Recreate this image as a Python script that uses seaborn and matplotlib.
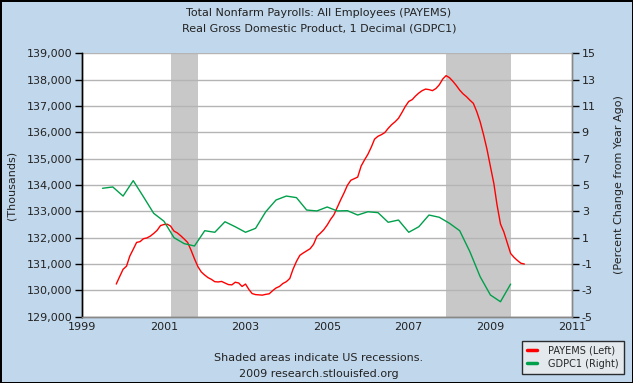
import pandas as pd
import numpy as np
import matplotlib.pyplot as plt
import matplotlib.dates as mdates
from matplotlib.lines import Line2D
import seaborn as sns

# Monthly total nonfarm payrolls (thousands), Nov 1999 - Nov 2009
payems = [
    130240, 130520,
    130800, 130920, 131300, 131560, 131820, 131850, 131960, 131990, 132060, 132160, 132280, 132460,
    132500, 132510, 132440, 132250, 132180, 132070, 131950, 131820, 131520, 131200, 130900, 130700,
    130580, 130480, 130420, 130330, 130320, 130340, 130280, 130220, 130210, 130310, 130280, 130150,
    130240, 130030, 129880, 129840, 129830, 129820, 129850, 129870, 129990, 130090, 130150, 130260,
    130330, 130450, 130800, 131100, 131330, 131420, 131500, 131580, 131750, 132050, 132170, 132300,
    132480, 132700, 132860, 133150, 133430, 133700, 133990, 134180, 134240, 134300, 134720, 134950,
    135170, 135450, 135740, 135850, 135910, 135990, 136150, 136290, 136400, 136530, 136750, 136980,
    137170, 137240, 137370, 137490, 137580, 137640, 137620, 137580, 137660, 137800, 138020, 138150,
    138070, 137930, 137780, 137600, 137460, 137350, 137220, 137100, 136780, 136400, 135900, 135360,
    134700, 134050, 133250, 132520, 132220, 131800, 131400, 131250, 131130, 131030, 131000,
]
payems_start = "1999-11-01"

# Quarterly real GDP, percent change from year ago, 1999Q3 - 2009Q3
gdpc1 = [
    4.75, 4.85,
    4.16, 5.33, 4.11, 2.85,
    2.25, 1.00, 0.55, 0.37,
    1.53, 1.41, 2.21, 1.83,
    1.41, 1.71, 2.97, 3.86,
    4.16, 4.04, 3.10, 3.03,
    3.33, 3.03, 3.05, 2.72,
    2.97, 2.90, 2.17, 2.34,
    1.41, 1.83, 2.72, 2.55,
    2.09, 1.53, -0.06, -1.96,
    -3.35, -3.86, -2.52,
]
gdpc1_start = "1999-07-01"

recessions = [("2001-03-01", "2001-11-05"), ("2007-12-01", "2009-07-01")]
left_ticks = list(range(129000, 139001, 1000))
right_ticks = list(range(-5, 16, 2))
year_ticks = [1999, 2001, 2003, 2005, 2007, 2009, 2011]

pay_df = pd.DataFrame({"date": pd.date_range(payems_start, periods=len(payems), freq="MS"),
                       "value": payems})
gdp_df = pd.DataFrame({"date": pd.date_range(gdpc1_start, periods=len(gdpc1), freq="QS"),
                       "value": gdpc1})

sns.set_theme(style="white")
plt.rcParams["font.family"] = ["DejaVu Sans"]

bg = "#C1D7EB"
fig = plt.figure(figsize=(6.33, 3.83), dpi=100, facecolor=bg, edgecolor="black", linewidth=2)
ax = fig.add_axes([0.130, 0.173, 0.7736, 0.688])
ax2 = ax.twinx()

# recession shading and horizontal grid
for start, end in recessions:
    ax.axvspan(pd.Timestamp(start), pd.Timestamp(end), color="#C8C8C8", lw=0, zorder=0)

for t in left_ticks:
    ax.axhline(t, color="#B4B4B4", lw=1, zorder=1)

sns.lineplot(data=pay_df, x="date", y="value", ax=ax, color="#FF0000", lw=1, zorder=3)
sns.lineplot(data=gdp_df, x="date", y="value", ax=ax2, color="#00A04B", lw=1, zorder=3)

ax.set_xlim(pd.Timestamp("1999-01-01"), pd.Timestamp("2011-01-01"))
ax.set_ylim(129000, 139000)
ax2.set_ylim(-5, 15)
ax.set_yticks(left_ticks)
ax.set_yticklabels([f"{t:,}" for t in left_ticks], fontsize=8, color="#222222")
ax2.set_yticks(right_ticks)
ax2.set_yticklabels([str(t) for t in right_ticks], fontsize=8, color="#222222")
ax.set_xticks([pd.Timestamp(f"{y}-01-01") for y in year_ticks])
ax.set_xticklabels([str(y) for y in year_ticks], fontsize=8, color="#222222")

ax.set_xlabel("")
ax.set_ylabel("(Thousands)", fontsize=8, color="#222222", labelpad=7.5)
ax2.set_ylabel("(Percent Change from Year Ago)", fontsize=8, color="#222222", labelpad=13)

ax.tick_params(axis="y", direction="out", length=5, width=1, color="black", pad=2)
ax2.tick_params(axis="y", direction="out", length=5, width=1, color="black", pad=2)
ax.tick_params(axis="x", direction="in", length=4, width=1, color="#AAAAAA", pad=4)

ax.set_facecolor("white")
ax.set_zorder(ax2.get_zorder() - 1)
ax2.patch.set_visible(False)
for a in (ax, ax2):
    a.spines["top"].set_visible(False)
    a.spines["left"].set_color("black")
    a.spines["right"].set_color("#888888")
    a.spines["bottom"].set_color("#888888")
    for s in a.spines.values():
        s.set_linewidth(1)

fig.text(0.504, 0.966, "Total Nonfarm Payrolls: All Employees (PAYEMS)",
         ha="center", va="center", fontsize=8, color="#222222")
fig.text(0.504, 0.925, "Real Gross Domestic Product, 1 Decimal (GDPC1)",
         ha="center", va="center", fontsize=8, color="#222222")
fig.text(0.503, 0.066, "Shaded areas indicate US recessions.",
         ha="center", va="center", fontsize=8, color="#222222")
fig.text(0.503, 0.023, "2009 research.stlouisfed.org",
         ha="center", va="center", fontsize=8, color="#222222")

handles = [Line2D([], [], color="#FF0000", lw=2.5),
           Line2D([], [], color="#00A04B", lw=2.5)]
leg = fig.legend(handles, ["PAYEMS (Left)", "GDPC1 (Right)"],
                 loc="lower right", bbox_to_anchor=(0.993, 0.012),
                 fontsize=7, frameon=True, fancybox=False,
                 handlelength=1.0, handletextpad=1.2, borderpad=0.5, labelspacing=0.3)
leg.get_frame().set_facecolor("#EEEEEE")
leg.get_frame().set_edgecolor("black")
leg.get_frame().set_linewidth(1)

fig.savefig("out.png", dpi=100, facecolor=bg)
